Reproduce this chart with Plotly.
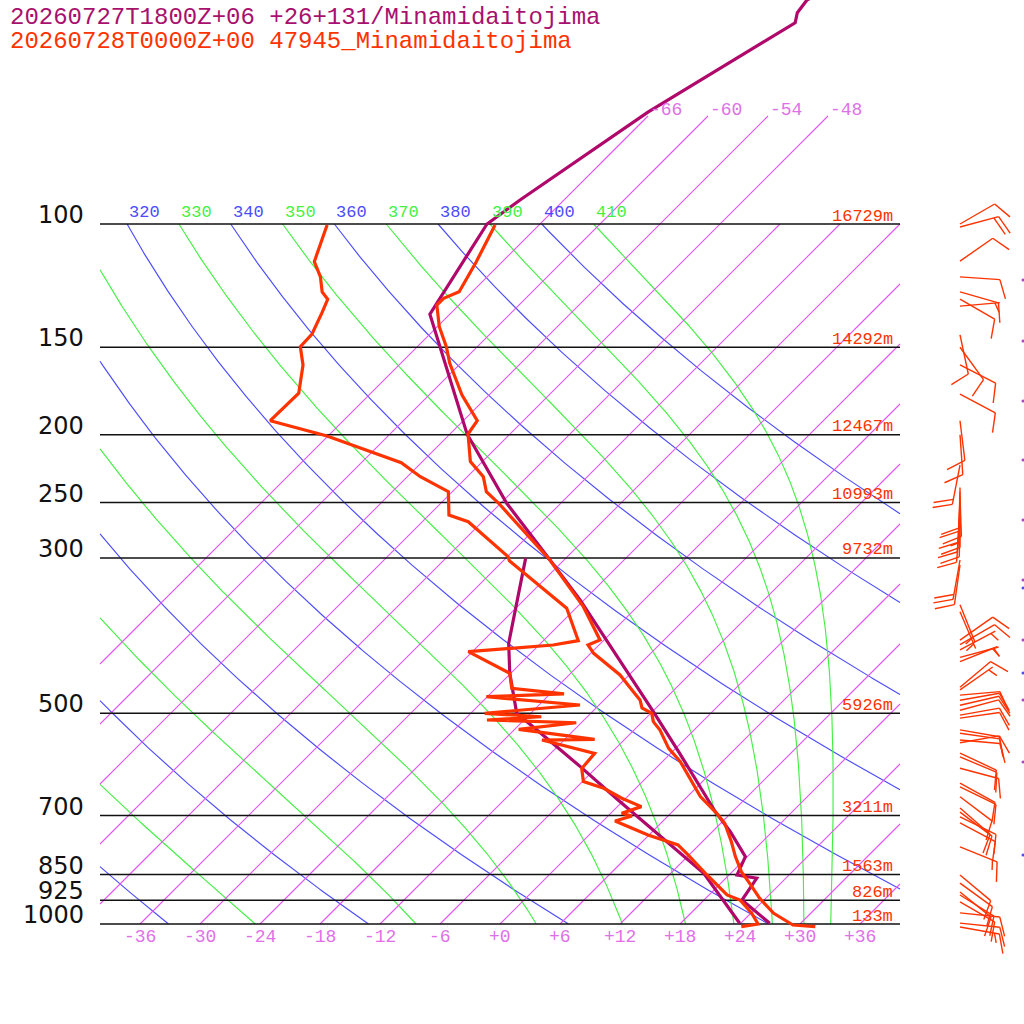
import numpy as np
import plotly.graph_objects as go

# ---------------- data ----------------
title_model = '20260727T1800Z+06 +26+131/Minamidaitojima'
title_obs = '20260728T0000Z+00 47945_Minamidaitojima'

# observed sounding 47945 (hPa, degC)
obs_t_p = [1008.9, 1003.3, 965.4, 919.0, 874.7, 841.8, 801.2, 762.7, 718.0, 694.8, 657.7,
           586.3, 561.1, 528.3, 514.0, 500.0, 491.4, 478.6, 465.7, 440.8, 410.5, 399.4,
           392.9, 352.1, 300.4, 261.9, 250.6, 241.2, 229.6, 218.5, 199.5, 191.0, 175.5,
           158.1, 149.7, 140.2, 130.6, 127.7, 125.0, 113.2, 100.3]
obs_t = [31.8, 29.4, 26.3, 23.4, 20.9, 18.9, 16.8, 14.9, 12.4, 10.6, 7.3,
         1.8, -0.7, -3.4, -4.9, -5.9, -7.4, -8.4, -9.9, -12.9, -17.7, -19.1,
         -18.4, -23.4, -31.7, -39.7, -42.2, -44.6, -46.4, -49.2, -52.2, -52.6, -56.7,
         -61.1, -63.1, -65.8, -68.2, -68.2, -67.3, -68.6, -70.4]

obs_td_p = [1008.9, 1000.0, 965.4, 924.1, 908.9, 851.1, 796.8, 771.1, 746.1, 712.6, 701.0,
            694.8, 679.7, 661.2, 639.8, 626.0, 599.2, 596.0, 570.4, 546.0, 544.7, 527.1,
            515.8, 511.2, 505.7, 500.0, 486.6, 473.4, 469.2, 460.5, 438.3, 408.3, 399.4,
            393.8, 354.0, 302.7, 298.8, 266.3, 260.5, 241.2, 229.6, 219.3, 200.8, 191.0,
            174.5, 159.0, 149.7, 143.6, 134.1, 128.1, 125.0, 118.9, 113.2, 100.3]
obs_td = [24.4, 25.8, 24.1, 21.6, 19.8, 15.8, 11.9, 9.9, 5.9, 1.2, 2.4,
          1.1, 2.4, -0.4, -3.2, -5.9, -7.4, -7.4, -7.6, -14.2, -9.0, -17.6,
          -12.5, -21.7, -16.6, -22.6, -13.9, -24.1, -16.6, -22.4, -24.1, -30.4, -22.6,
          -20.5, -24.9, -35.4, -35.9, -43.4, -46.0, -48.4, -52.7, -56.0, -66.1, -73.3,
          -73.2, -75.6, -77.7, -77.8, -78.9, -79.7, -81.0, -82.7, -84.8, -87.2]

# model forecast
mdl_t_p = [997.7, 924.1, 860.4, 851.1, 801.2, 738.1, 691.2, 570.4, 497.4, 344.4, 302.0,
           250.6, 199.5, 134.5, 100.0, 92.4, 69.2, 51.6, 49.9, 47.9, 46.5]
mdl_t = [26.9, 21.8, 21.1, 18.8, 17.8, 13.8, 10.3, 0.9, -5.9, -24.4, -31.4,
         -41.4, -52.3, -68.0, -71.3, -70.4, -66.4, -60.6, -61.4, -61.7, -61.0]
mdl_td_p = [997.7, 846.2, 664.9, 596.0, 528.3, 500.0, 438.3, 397.2, 300.4]
mdl_td = [23.9, 15.3, -0.6, -7.7, -15.7, -19.4, -24.1, -27.2, -34.0]

# observed winds (hPa, direction deg, speed kt)
barb_p = [100, 101, 113, 119, 125, 128, 131, 144, 150, 159, 175, 191, 200, 221,
          238, 241, 245, 250, 254, 258, 262, 267, 302, 307,
          350, 358, 393, 399, 406, 416, 422, 459, 463, 471, 479, 487, 495, 503, 508,
          528, 534, 546, 551, 570, 577, 599, 629, 637, 658, 683, 692, 703, 717,
          776, 851, 874, 900, 909, 930, 964, 997, 1010]
barb_dir = [60, 75, 55, 94, 106, 120, 85, 168, 144, 117, 118, 173, 176, 191,
            180, 182, 178, 183, 180, 184, 181, 185, 190, 188,
            158, 157, 55, 60, 62, 75, 68, 50, 55, 85, 80, 77, 75, 80, 82,
            100, 98, 95, 80, 115, 113, 105, 119, 116, 127, 131, 127, 116, 118,
            112, 130, 126, 129, 122, 120, 96, 96, 100]
barb_spd = [10, 20, 10, 10, 10, 10, 5, 10, 10, 10, 10, 10, 10, 20,
            10, 10, 10, 10, 15, 10, 10, 10, 20, 10,
            5, 5, 10, 10, 5, 5, 5, 10, 5, 10, 10, 10, 10, 10, 10,
            10, 10, 10, 10, 10, 10, 10, 10, 10, 10, 10, 10, 10, 10,
            15, 10, 10, 10, 10, 10, 10, 10, 15]

# model wind stubs at the right edge
mdl_wind_p = [120.2, 146.9, 179.0, 217.4, 264.8, 322.6, 392.9, 478.6, 586.8]
mdl_wind2_p = [331.0, 437.9, 796.8]

# standard levels
std_p = [100, 150, 200, 250, 300, 500, 700, 850, 925, 1000]
std_hgt = ['16729m', '14292m', '12467m', '10993m', '9732m', '5926m', '3211m',
           '1563m', '826m', '133m']

isotherms = list(range(-66, 37, 6))
isotherms_high = [-66, -60, -54, -48]
dry_theta = list(range(200, 401, 20))
moist_theta = list(range(250, 411, 20))

# ---------------- helpers ----------------
SKEW = 70.0           # skewed degrees per decade of pressure
KAPPA = 287.04 / 1005.7
OBS = '#ff3300'
MDL = '#b0076b'
ISO = '#e455f4'
ISO_TXT = '#e070e8'
DRY = '#4c4cff'
MOIST = '#44f044'
MONO = 'Liberation Mono'


def skx(t, p):
    return np.asarray(t, dtype=float) + SKEW * np.log10(1000.0 / np.asarray(p, dtype=float))


def clipped(x, p, lo=-40.0, hi=40.0):
    xs, ps = [], []
    for i in range(len(x)):
        ins = lo <= x[i] <= hi
        if i > 0:
            pin = lo <= x[i - 1] <= hi
            if ins != pin:
                edge = lo if min(x[i - 1], x[i]) < lo else hi
                f = (edge - x[i - 1]) / (x[i] - x[i - 1])
                lp = np.log10(p[i - 1]) + f * (np.log10(p[i]) - np.log10(p[i - 1]))
                xs.append(float(edge))
                ps.append(float(10 ** lp))
                if not ins:
                    xs.append(None)
                    ps.append(None)
        if ins:
            xs.append(float(x[i]))
            ps.append(float(p[i]))
    xs.append(None)
    ps.append(None)
    return xs, ps


def moist_temps(theta, p):
    Rd, Cp, Lv, eps = 287.04, 1005.7, 2.501e6, 0.622

    def es(T):
        return 6.112 * np.exp(17.67 * (T - 273.15) / (T - 29.65))

    def f(T, pp):
        e = es(T)
        rs = eps * e / (pp - e)
        return (Rd * T + Lv * rs) / (Cp + Lv * Lv * rs * eps / (Rd * T * T)) / pp

    T = theta * 0.1 ** KAPPA
    out = [T]
    for i in range(1, len(p)):
        h = p[i] - p[i - 1]
        k1 = f(T, p[i - 1])
        k2 = f(T + h / 2 * k1, p[i - 1] + h / 2)
        k3 = f(T + h / 2 * k2, p[i - 1] + h / 2)
        k4 = f(T + h * k3, p[i])
        T = T + h * (k1 + 2 * k2 + 2 * k3 + k4) / 6
        out.append(T)
    return np.array(out) - 273.15


BARB_X = 46.0   # skewed units of the barb column
PX_X = 10.0     # pixels per skewed degree
PX_Y = 700.0    # pixels per decade of pressure


def barb(p, d, spd, L=40, F=20, gap=5):
    def pt(dx, dy):
        return float(BARB_X + dx / PX_X), float(p * 10 ** (-dy / PX_Y))
    a = np.radians(d)
    ux, uy = np.sin(a), np.cos(a)
    b = np.radians(d + 70)
    fx, fy = np.sin(b), np.cos(b)
    xs, ps = [], []
    for q in (pt(0, 0), pt(L * ux, L * uy)):
        xs.append(q[0]); ps.append(q[1])
    xs.append(None); ps.append(None)
    pos = L
    nfull, half = spd // 10, (spd % 10) >= 5
    if nfull == 0 and half:
        pos = L - gap
    for k in range(nfull + (1 if half else 0)):
        ln = F if k < nfull else F / 2
        sx, sy = pos * ux, pos * uy
        for q in (pt(sx, sy), pt(sx + ln * fx, sy + ln * fy)):
            xs.append(q[0]); ps.append(q[1])
        xs.append(None); ps.append(None)
        pos -= gap
    return xs, ps


fig = go.Figure()

# dry adiabats
pp = np.logspace(3, 2, 400)
dx_, dp_ = [], []
for th in dry_theta:
    tt = th * (pp / 1000.0) ** KAPPA - 273.15
    a, b = clipped(skx(tt, pp), pp)
    dx_ += a; dp_ += b
fig.add_trace(go.Scatter(x=dx_, y=dp_, mode='lines', line=dict(color=DRY, width=1.15), hoverinfo='skip'))

# moist adiabats
pu = np.logspace(2, 3, 500)
mx_, mp_ = [], []
for th in moist_theta:
    tt = moist_temps(th, pu)
    a, b = clipped(skx(tt, pu), pu)
    mx_ += a; mp_ += b
fig.add_trace(go.Scatter(x=mx_, y=mp_, mode='lines', line=dict(color=MOIST, width=1.15), hoverinfo='skip'))

# isotherms, one trace each
for t in isotherms:
    ptop = 70.1 if t in isotherms_high else 100.0
    piso = np.logspace(3, np.log10(ptop), 120)
    a, b = clipped(skx(t, piso), piso)
    fig.add_trace(go.Scatter(x=a, y=b, mode='lines', line_color=ISO, line_width=1.1,
                             opacity=1.0, hoverinfo='skip'))

# pressure levels
lx, lp = [], []
for p in std_p:
    lx += [-40, 40, None]; lp += [p, p, None]
fig.add_trace(go.Scatter(x=lx, y=lp, mode='lines', line=dict(color='#111111', width=1.5), hoverinfo='skip'))

# profiles
fig.add_trace(go.Scatter(x=skx(mdl_td, mdl_td_p), y=mdl_td_p, mode='lines', line=dict(color=MDL, width=3.2)))
fig.add_trace(go.Scatter(x=skx(mdl_t, mdl_t_p), y=mdl_t_p, mode='lines', line=dict(color=MDL, width=3.2)))
fig.add_trace(go.Scatter(x=skx(obs_td, obs_td_p), y=obs_td_p, mode='lines', line=dict(color=OBS, width=3.2)))
fig.add_trace(go.Scatter(x=skx(obs_t, obs_t_p), y=obs_t_p, mode='lines', line=dict(color=OBS, width=3.2)))

# wind barbs
bx, bp = [], []
for p, d, s in zip(barb_p, barb_dir, barb_spd):
    a, b = barb(p, d, s)
    bx += a; bp += b
fig.add_trace(go.Scatter(x=bx, y=bp, mode='lines', line=dict(color=OBS, width=1.4), hoverinfo='skip'))
fig.add_trace(go.Scatter(x=[52.3] * len(mdl_wind_p), y=mdl_wind_p, mode='markers',
                         marker=dict(color='#b040d0', size=3), hoverinfo='skip'))
fig.add_trace(go.Scatter(x=[52.3] * len(mdl_wind2_p), y=mdl_wind2_p, mode='markers',
                         marker=dict(color=DRY, size=3), hoverinfo='skip'))

ann = []
# header
ann.append(dict(xref='paper', yref='paper', x=8 / 1024, y=1 - 17 / 1024, text=title_model,
                showarrow=False, xanchor='left', yanchor='middle',
                font=dict(family=MONO, size=24, color='#a8106e')))
ann.append(dict(xref='paper', yref='paper', x=8 / 1024, y=1 - 41 / 1024, text=title_obs,
                showarrow=False, xanchor='left', yanchor='middle',
                font=dict(family=MONO, size=24, color=OBS)))
# pressure labels and heights
for p, h in zip(std_p, std_hgt):
    ann.append(dict(x=-41.4, y=np.log10(p), text=str(p), showarrow=False, xanchor='right',
                    yanchor='middle', yshift=9, font=dict(family='DejaVu Sans', size=24, color='#111111')))
    ann.append(dict(x=39.5, y=np.log10(p), text=h, showarrow=False, xanchor='right',
                    yanchor='middle', yshift=8, font=dict(family=MONO, size=17, color=OBS)))
# bottom temperature labels
for t in range(-36, 37, 6):
    ann.append(dict(x=t, y=3, text=('%+d' % t), showarrow=False, xanchor='center',
                    yanchor='middle', yshift=-13, font=dict(family=MONO, size=18, color=ISO_TXT)))
# upper isotherm labels
for t in isotherms_high:
    ann.append(dict(x=float(skx(t, 70.1)), y=np.log10(70.1), text='%d' % t, showarrow=False,
                    xanchor='left', yanchor='middle', yshift=6,
                    font=dict(family=MONO, size=18, color=ISO_TXT)))
# adiabat labels along 100 hPa
for th, col in [(t, DRY) for t in dry_theta] + [(t, MOIST) for t in moist_theta]:
    x100 = float(skx(th * 0.1 ** KAPPA - 273.15, 100))
    if x100 >= -40:
        ann.append(dict(x=x100, y=2, text=str(th), showarrow=False, xanchor='left',
                        yanchor='middle', yshift=12, font=dict(family=MONO, size=17, color=col)))

fig.update_layout(
    width=1024, height=1024,
    margin=dict(l=0, r=0, t=0, b=0),
    paper_bgcolor='white', plot_bgcolor='white',
    showlegend=False,
    xaxis=dict(range=[-50, 52.4], visible=False, fixedrange=True),
    yaxis=dict(type='log', range=[3 + 100 / 700, 3 - 924 / 700], visible=False, fixedrange=True),
    annotations=ann,
)

# the page body has a default 8px margin; drop it so the figure sits at the corner
fig.write_html('out.html', config={'displayModeBar': False},
               post_script="document.body.style.margin='0';")
